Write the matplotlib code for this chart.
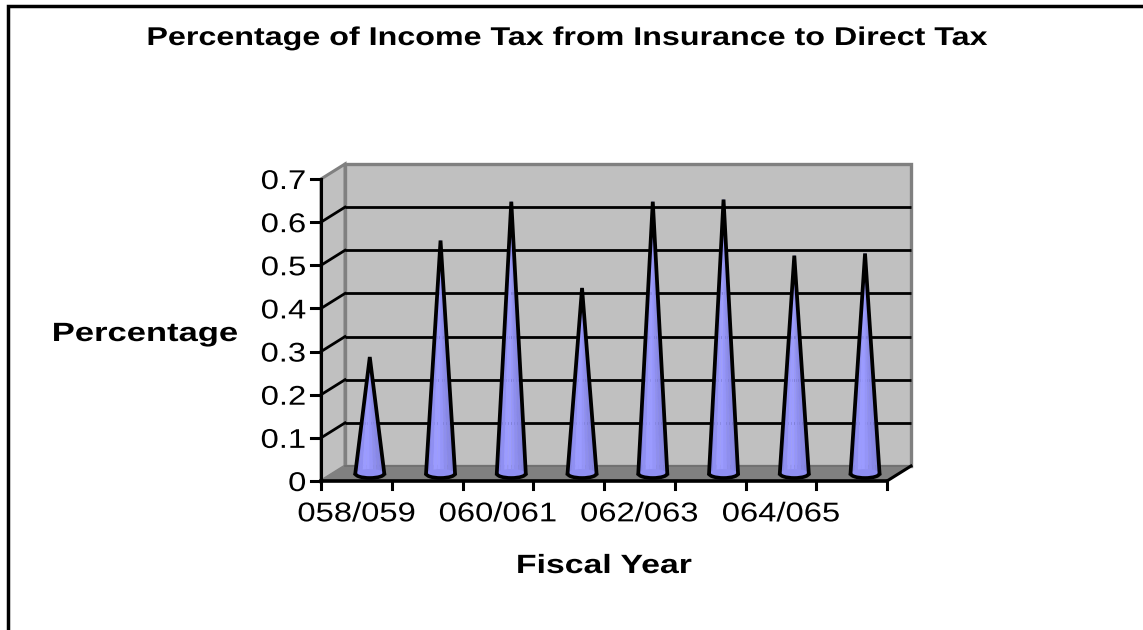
import matplotlib
matplotlib.use("Agg")
import matplotlib.pyplot as plt
import matplotlib.patheffects as pe
from matplotlib.patches import Polygon, Ellipse, Arc
from matplotlib.transforms import Affine2D
import numpy as np

plt.rcParams["font.family"] = ["Liberation Sans", "DejaVu Sans"]

# Tax share per fiscal year
years = ["058/059", "059/060", "060/061", "061/062", "062/063", "063/064", "064/065", "065/066"]
values = [0.27, 0.54, 0.63, 0.43, 0.63, 0.635, 0.505, 0.51]
y_ticks = [0, 0.1, 0.2, 0.3, 0.4, 0.5, 0.6, 0.7]
y_tick_labels = ["0", "0.1", "0.2", "0.3", "0.4", "0.5", "0.6", "0.7"]


class StretchX(pe.AbstractPathEffect):
    # Widens glyphs horizontally around a fraction of the text's own width
    def __init__(self, sx, anchor=0.5):
        super().__init__()
        self.sx = sx
        self.anchor = anchor

    def draw_path(self, renderer, gc, tpath, affine, rgbFace=None):
        ext = affine.transform_path(tpath).get_extents()
        cx = ext.x0 + self.anchor * ext.width
        wide = affine + Affine2D().translate(-cx, 0).scale(self.sx, 1).translate(cx, 0)
        renderer.draw_path(gc, tpath, wide, rgbFace)


W, H = 1143, 630
fig = plt.figure(figsize=(W / 100, H / 100), dpi=100, facecolor="white")

# Full figure overlay for the outer chart frame, in pixels
bg = fig.add_axes([0, 0, 1, 1])
bg.set_xlim(0, W)
bg.set_ylim(H, 0)
bg.axis("off")
bg.plot([8, 8, W + 5], [H + 5, 5.5, 5.5], color="black", lw=2.5, solid_joinstyle="miter")

# Front plane of the 3D box: x in categories, y in value units
left, right, bottom, top = 321, 887, 481, 179
ax = fig.add_axes([left / W, 1 - bottom / H, (right - left) / W, (bottom - top) / H])
ax.set_xlim(0, len(years))
ax.set_ylim(0, 0.7)
ax.axis("off")
ax.patch.set_alpha(0)

# Depth of the box expressed in data units
DX = 24 / ((right - left) / len(years))
DY = 15 / ((bottom - top) / 0.7)
n = len(years)
ymax = y_ticks[-1]


def poly(xy, **kw):
    p = Polygon(xy, closed=True, clip_on=False, **kw)
    ax.add_patch(p)


# Back wall, side wall and floor
poly([(DX, DY), (n + DX, DY), (n + DX, ymax + DY), (DX, ymax + DY)],
     facecolor="#C0C0C0", edgecolor="#808080", lw=2.4, joinstyle="miter", zorder=1)
poly([(0, 0), (DX, DY), (DX, ymax + DY), (0, ymax)],
     facecolor="#C0C0C0", edgecolor="#808080", lw=2.2, zorder=1)
poly([(0, 0), (n, 0), (n + DX, DY), (DX, DY)],
     facecolor="#808080", edgecolor="#808080", lw=1, zorder=2)
ax.plot([DX, n + DX], [DY, DY], color="#6E6E6E", lw=1.2, zorder=2, clip_on=False)

# Gridlines on the back wall, with their runs along the side wall
for v in y_ticks[1:-1]:
    ax.plot([DX, n + DX], [v + DY, v + DY], color="black", lw=2, zorder=3,
            clip_on=False, solid_capstyle="butt")
    ax.plot([0, DX], [v, v + DY], color="black", lw=2, zorder=3, clip_on=False)

# Axis lines and tick marks
ax.plot([0, 0], [0, ymax], color="black", lw=2.2, zorder=6, clip_on=False)
ax.plot([0, n], [0, 0], color="black", lw=2.6, zorder=6, clip_on=False)
ax.plot([n, n + DX], [0, DY], color="black", lw=2.2, zorder=6, clip_on=False)
tick_dx = 10 / ((right - left) / n)
tick_dy = 8 / ((bottom - top) / 0.7)
label_drop = 3 / ((bottom - top) / 0.7)
for v, lab in zip(y_ticks, y_tick_labels):
    ax.plot([-tick_dx, 0], [v, v], color="black", lw=2.2, zorder=6, clip_on=False)
    ax.text(-tick_dx - 0.07, v - label_drop, lab, ha="right", va="center", fontsize=19.5,
            color="black", path_effects=[StretchX(1.21, anchor=1.0)])
for i in range(n + 1):
    ax.plot([i, i], [0, -tick_dy], color="black", lw=2.2, zorder=6, clip_on=False)
for i in range(0, n, 2):
    ax.text(i + 0.5, -0.0935, years[i], ha="center", va="baseline", fontsize=19.5, color="black",
            path_effects=[StretchX(1.21)])

# Cones sit halfway back in the box
half_w = 14.5 / ((right - left) / n)
shades = ["#8585E6", "#8F8FF2", "#9B9BFF", "#9B9BFF", "#9595F8", "#8E8EEE", "#8888E6", "#8383DE"]
ell_h = 4.5 / ((bottom - top) / 0.7)
for i, val in enumerate(values):
    cx = i + 0.5 + DX * 0.5 + 0.02
    base = DY * 0.5
    tip = base + val
    edges = np.linspace(-1, 1, len(shades) + 1)
    for k, c in enumerate(shades):
        a, b = edges[k], edges[k + 1]
        poly([(cx + a * half_w, base), (cx + b * half_w, base), (cx, tip)],
             facecolor=c, edgecolor=c, lw=0.3, zorder=4)
    # Rounded foot of the cone: fill, then only the lower half of the rim
    ax.add_patch(Ellipse((cx, base), 2 * half_w, 2 * ell_h, facecolor="#8F8FF2",
                         edgecolor="none", zorder=4, clip_on=False))
    ax.add_patch(Arc((cx, base), 2 * half_w, 2 * ell_h, theta1=180, theta2=360,
                     edgecolor="black", lw=2.6, zorder=5, clip_on=False))
    ax.plot([cx - half_w, cx, cx + half_w], [base, tip, base], color="black", lw=2.7,
            zorder=5, clip_on=False, solid_joinstyle="miter")

# Titles
bg.text(568, 45, "Percentage of Income Tax from Insurance to Direct Tax", ha="center", va="baseline",
        fontsize=18.5, fontweight="bold", color="black", path_effects=[StretchX(1.255)])
bg.text(604, 573, "Fiscal Year", ha="center", va="baseline", fontsize=19, fontweight="bold",
        color="black", path_effects=[StretchX(1.28)])
bg.text(145, 341, "Percentage", ha="center", va="baseline", fontsize=19, fontweight="bold",
        color="black", path_effects=[StretchX(1.31)])

fig.savefig("out.png", dpi=100)
